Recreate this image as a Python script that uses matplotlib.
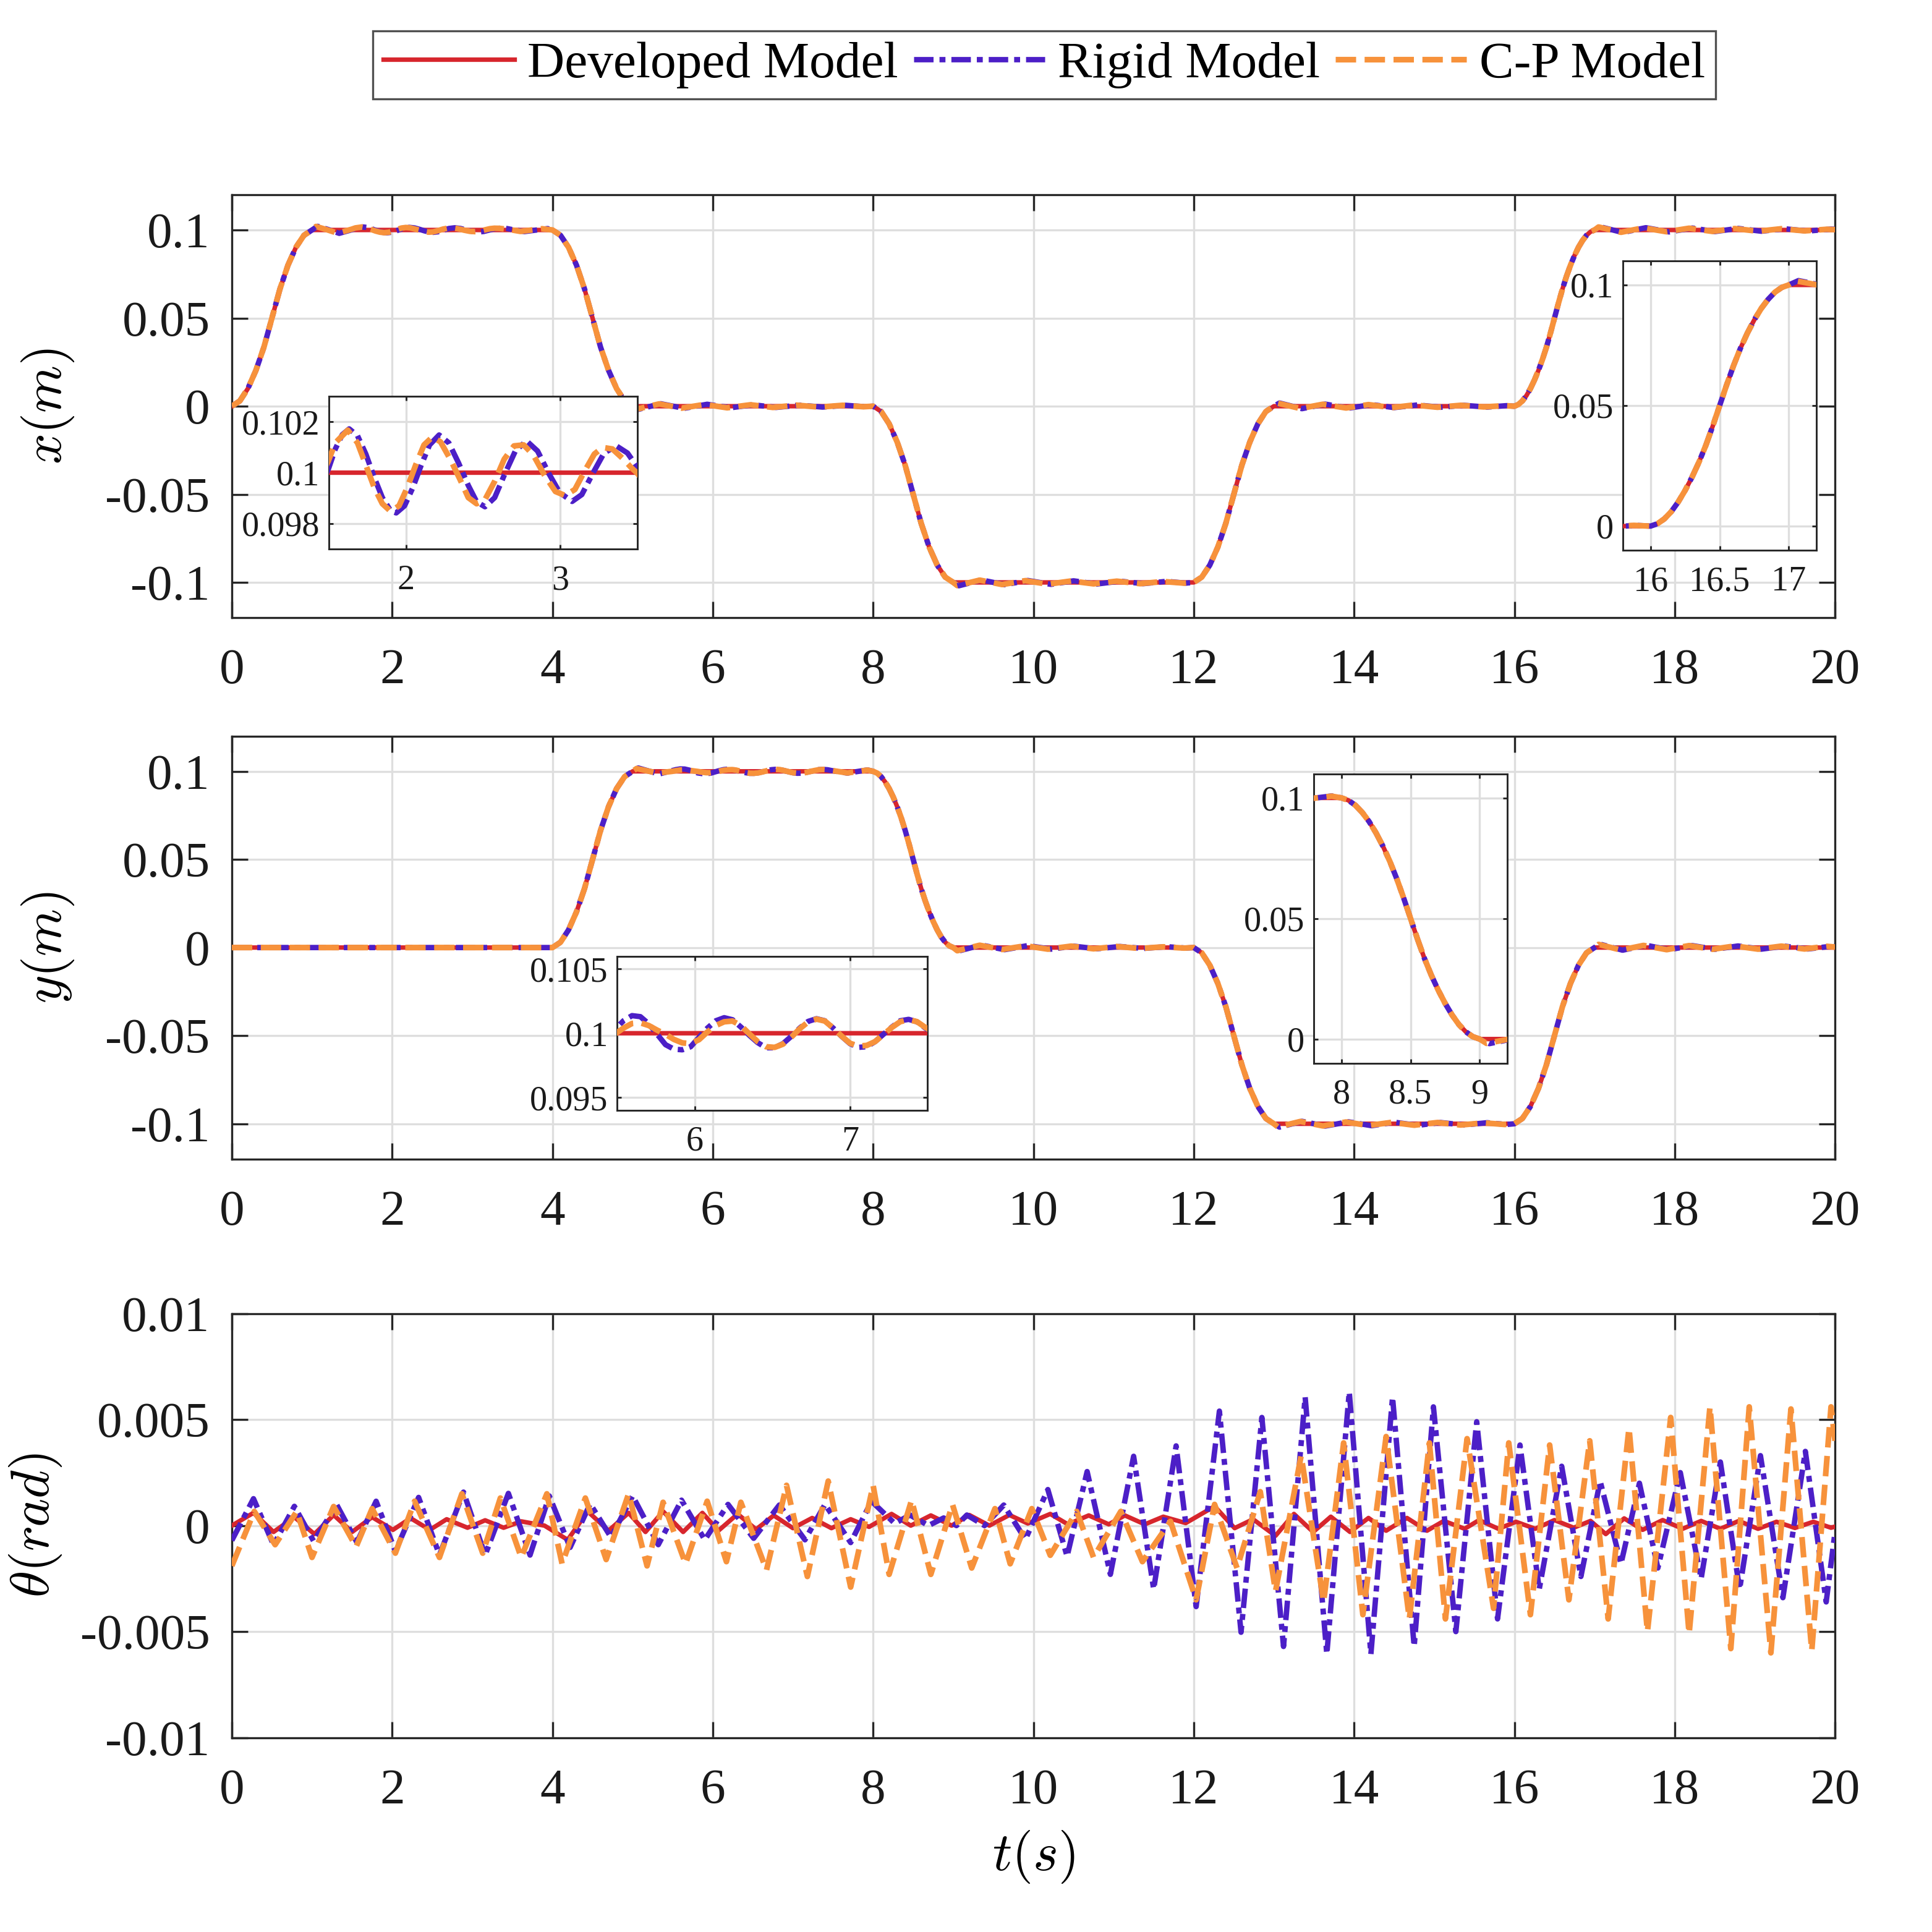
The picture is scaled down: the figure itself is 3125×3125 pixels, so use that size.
import numpy as np
import matplotlib
matplotlib.use('Agg')
import matplotlib.pyplot as plt

plt.rcParams['font.family'] = ['Liberation Serif', 'DejaVu Serif']
plt.rcParams['mathtext.fontset'] = 'cm'

model_names = ['Developed Model', 'Rigid Model', 'C-P Model']
model_colors = ['#d7262d', '#4c1fc7', '#f7923b']

t_ticks = [0, 2, 4, 6, 8, 10, 12, 14, 16, 18, 20]
t_ticklabels = ['0', '2', '4', '6', '8', '10', '12', '14', '16', '18', '20']
pos_ticks = [-0.1, -0.05, 0, 0.05, 0.1]
pos_ticklabels = ['-0.1', '-0.05', '0', '0.05', '0.1']
th_ticks = [-0.01, -0.005, 0, 0.005, 0.01]
th_ticklabels = ['-0.01', '-0.005', '0', '0.005', '0.01']

# ---- x(t): transitions (same for all models) ----
x_ramp_t = [0.0, 0.1, 0.2, 0.3, 0.4, 0.5, 0.6, 0.7, 0.8, 0.9, 1.0,
            4.0, 4.1, 4.2, 4.3, 4.4, 4.5, 4.6, 4.7, 4.8, 4.9, 5.0,
            8.0, 8.1, 8.2, 8.3, 8.4, 8.5, 8.6, 8.7, 8.8, 8.9, 9.0,
            12.0, 12.1, 12.2, 12.3, 12.4, 12.5, 12.6, 12.7, 12.8, 12.9, 13.0,
            16.0, 16.05, 16.1, 16.15, 16.2, 16.25, 16.3, 16.35, 16.4, 16.45, 16.5,
            16.55, 16.6, 16.65, 16.7, 16.75, 16.8, 16.85, 16.9, 16.95, 17.0]
x_ramp_v = [0.0, 0.003, 0.010, 0.0203, 0.0335, 0.05, 0.0665, 0.080, 0.0902, 0.097, 0.1,
            0.1, 0.097, 0.0902, 0.080, 0.0665, 0.05, 0.0335, 0.0203, 0.010, 0.003, 0.0,
            0.0, -0.003, -0.010, -0.0203, -0.0335, -0.05, -0.0665, -0.080, -0.0902, -0.097, -0.1,
            -0.1, -0.097, -0.0902, -0.080, -0.0665, -0.05, -0.0335, -0.0203, -0.010, -0.003, 0.0,
            0.0, 0.001, 0.003, 0.006, 0.010, 0.0148, 0.0203, 0.0265, 0.0335, 0.0415, 0.05,
            0.0585, 0.0665, 0.0737, 0.080, 0.0855, 0.0902, 0.094, 0.097, 0.099, 0.1]

# plateau points per model
x_dev_t = [20.0]
x_dev_v = [0.1]

x_rig_t = [1.07, 1.20, 1.34,
           1.497, 1.542, 1.587, 1.632, 1.686, 1.740, 1.794, 1.847, 1.901, 1.937,
           1.991, 2.045, 2.099, 2.153, 2.215, 2.278, 2.341, 2.404, 2.458, 2.512,
           2.575, 2.637, 2.709, 2.781, 2.853, 2.925, 2.996, 3.077, 3.140, 3.212,
           3.284, 3.364, 3.436, 3.499, 3.65, 3.94,
           5.07, 5.35, 5.64, 5.93, 6.22, 6.50, 6.79, 7.08, 7.37, 7.66, 7.90,
           9.07, 9.35, 9.64, 9.93, 10.22, 10.50, 10.79, 11.08, 11.37, 11.66, 11.90,
           13.07, 13.35, 13.64, 13.93, 14.22, 14.50, 14.79, 15.08, 15.37, 15.66, 15.90,
           17.07, 17.35, 17.64, 17.93, 18.22, 18.50, 18.79, 19.08, 19.37, 19.66, 19.95, 20.0]
x_rig_v = [0.1021, 0.1003, 0.0981,
           0.10014, 0.10093, 0.10149, 0.10172, 0.10145, 0.10073, 0.09982, 0.09902, 0.09850, 0.09842,
           0.09870, 0.09942, 0.10030, 0.10109, 0.10148, 0.10117, 0.10038, 0.09950, 0.09886, 0.09866,
           0.09902, 0.09990, 0.10085, 0.10125, 0.10085, 0.09998, 0.09922, 0.09887, 0.09914, 0.09998,
           0.10077, 0.10105, 0.10077, 0.10022, 0.0991, 0.1008,
           -0.0018, 0.0014, -0.0012, 0.0011, -0.0009, 0.0008, -0.0007, 0.0006, -0.0005, 0.0005, -0.0003,
           -0.1019, -0.0986, -0.1013, -0.0989, -0.1011, -0.0991, -0.1009, -0.0993, -0.1007, -0.0994, -0.1004,
           0.0018, -0.0014, 0.0012, -0.0011, 0.0009, -0.0008, 0.0007, -0.0006, 0.0005, -0.0005, 0.0003,
           0.1018, 0.0986, 0.1013, 0.0989, 0.1011, 0.0991, 0.1009, 0.0993, 0.1007, 0.0994, 0.1005, 0.1004]

x_cp_t = [1.05, 1.19, 1.32,
          1.497, 1.542, 1.623, 1.686, 1.740, 1.794, 1.847, 1.901, 1.955, 2.009,
          2.063, 2.117, 2.171, 2.224, 2.287, 2.350, 2.404, 2.458, 2.512, 2.575,
          2.637, 2.700, 2.763, 2.826, 2.898, 2.969, 3.032, 3.095, 3.158, 3.221,
          3.275, 3.338, 3.410, 3.463, 3.499, 3.60, 3.87,
          5.05, 5.33, 5.61, 5.90, 6.18, 6.47, 6.75, 7.04, 7.33, 7.62, 7.88,
          9.05, 9.33, 9.61, 9.90, 10.18, 10.47, 10.75, 11.04, 11.33, 11.62, 11.88,
          13.05, 13.33, 13.61, 13.90, 14.18, 14.47, 14.75, 15.04, 15.33, 15.62, 15.88,
          17.05, 17.33, 17.61, 17.90, 18.18, 18.47, 18.75, 19.04, 19.33, 19.62, 19.90, 20.0]
x_cp_v = [0.1020, 0.1001, 0.0982,
          0.10046, 0.10117, 0.10167, 0.10117, 0.10030, 0.09942, 0.09878, 0.09848, 0.09870, 0.09942,
          0.10030, 0.10109, 0.10140, 0.10121, 0.10053, 0.09974, 0.09902, 0.09878, 0.09894, 0.09966,
          0.10053, 0.10105, 0.10109, 0.10069, 0.09990, 0.09926, 0.09910, 0.09934, 0.10006, 0.10073,
          0.10099, 0.10093, 0.10053, 0.10018, 0.09998, 0.0992, 0.1007,
          -0.0017, 0.0013, -0.0011, 0.0010, -0.0009, 0.0008, -0.0007, 0.0006, -0.0005, 0.0005, -0.0003,
          -0.1018, -0.0987, -0.1012, -0.0990, -0.1010, -0.0992, -0.1008, -0.0993, -0.1007, -0.0995, -0.1004,
          0.0017, -0.0013, 0.0011, -0.0010, 0.0009, -0.0008, 0.0007, -0.0006, 0.0005, -0.0004, 0.0003,
          0.1017, 0.0987, 0.1012, 0.0990, 0.1010, 0.0992, 0.1008, 0.0993, 0.1007, 0.0995, 0.1004, 0.1002]

# ---- y(t): transitions ----
y_ramp_t = [4.0, 4.1, 4.2, 4.3, 4.4, 4.5, 4.6, 4.7, 4.8, 4.9, 5.0,
            8.0, 8.05, 8.1, 8.15, 8.2, 8.25, 8.3, 8.35, 8.4, 8.45, 8.5,
            8.55, 8.6, 8.65, 8.7, 8.75, 8.8, 8.85, 8.9, 8.95, 9.0,
            12.0, 12.1, 12.2, 12.3, 12.4, 12.5, 12.6, 12.7, 12.8, 12.9, 13.0,
            16.0, 16.1, 16.2, 16.3, 16.4, 16.5, 16.6, 16.7, 16.8, 16.9, 17.0]
y_ramp_v = [0.0, 0.003, 0.010, 0.0203, 0.0335, 0.05, 0.0665, 0.080, 0.0902, 0.097, 0.1,
            0.1, 0.099, 0.097, 0.094, 0.0902, 0.0855, 0.080, 0.0737, 0.0665, 0.0585, 0.05,
            0.0415, 0.0335, 0.0265, 0.0203, 0.0148, 0.010, 0.006, 0.003, 0.001, 0.0,
            0.0, -0.003, -0.010, -0.0203, -0.0335, -0.05, -0.0665, -0.080, -0.0902, -0.097, -0.1,
            -0.1, -0.097, -0.0902, -0.080, -0.0665, -0.05, -0.0335, -0.0203, -0.010, -0.003, 0.0]

y_dev_t = [0.0, 20.0]
y_dev_v = [0.0, 0.0]

y_rig_t = [0.0,
           5.07, 5.33,
           5.493, 5.540, 5.595, 5.649, 5.703, 5.757, 5.811, 5.865, 5.919, 5.973,
           6.027, 6.081, 6.135, 6.189, 6.243, 6.297, 6.351, 6.405, 6.459, 6.514,
           6.568, 6.622, 6.676, 6.730, 6.784, 6.838, 6.892, 6.946, 7.000, 7.054,
           7.108, 7.162, 7.216, 7.270, 7.324, 7.378, 7.432, 7.486, 7.68, 7.93,
           9.07, 9.35, 9.64, 9.93, 10.22, 10.50, 10.79, 11.08, 11.37, 11.66, 11.90,
           13.07, 13.35, 13.64, 13.93, 14.22, 14.50, 14.79, 15.08, 15.37, 15.66, 15.90,
           17.07, 17.35, 17.64, 17.93, 18.22, 18.50, 18.79, 19.08, 19.37, 19.66, 19.95, 20.0]
y_rig_v = [0.0,
           0.1019, 0.0985,
           0.10040, 0.10097, 0.10137, 0.10129, 0.10073, 0.09992, 0.09911, 0.09876, 0.09871, 0.09895,
           0.09968, 0.10040, 0.10097, 0.10121, 0.10105, 0.10048, 0.09984, 0.09927, 0.09887, 0.09887,
           0.09919, 0.09976, 0.10040, 0.10092, 0.10113, 0.10097, 0.10040, 0.09976, 0.09919, 0.09890,
           0.09895, 0.09935, 0.09992, 0.10048, 0.10097, 0.10108, 0.10089, 0.10040, 0.0990, 0.1008,
           -0.0019, 0.0014, -0.0012, 0.0011, -0.0009, 0.0008, -0.0007, 0.0006, -0.0005, 0.0005, -0.0003,
           -0.1019, -0.0986, -0.1013, -0.0989, -0.1011, -0.0991, -0.1009, -0.0993, -0.1007, -0.0994, -0.1004,
           0.0019, -0.0015, 0.0013, -0.0012, 0.0011, -0.0010, 0.0009, -0.0009, 0.0008, -0.0008, 0.0007, 0.0005]

y_cp_t = [0.0,
          5.05, 5.31,
          5.493, 5.540, 5.595, 5.649, 5.703, 5.757, 5.811, 5.865, 5.919, 5.973,
          6.027, 6.081, 6.135, 6.189, 6.243, 6.297, 6.351, 6.405, 6.459, 6.514,
          6.568, 6.622, 6.676, 6.730, 6.784, 6.838, 6.892, 6.946, 7.000, 7.054,
          7.108, 7.162, 7.216, 7.270, 7.324, 7.378, 7.432, 7.486, 7.68, 7.93,
          9.05, 9.33, 9.61, 9.90, 10.18, 10.47, 10.75, 11.04, 11.33, 11.62, 11.88,
          13.05, 13.33, 13.61, 13.90, 14.18, 14.47, 14.75, 15.04, 15.33, 15.62, 15.88,
          17.05, 17.33, 17.61, 17.90, 18.18, 18.47, 18.75, 19.04, 19.33, 19.62, 19.90, 20.0]
y_cp_v = [0.0,
          0.1016, 0.0990,
          0.10000, 0.10040, 0.10076, 0.10081, 0.10060, 0.10024, 0.09992, 0.09952, 0.09925, 0.09919,
          0.09950, 0.10010, 0.10060, 0.10089, 0.10095, 0.10060, 0.09995, 0.09935, 0.09895, 0.09890,
          0.09915, 0.09970, 0.10035, 0.10088, 0.10110, 0.10095, 0.10040, 0.09978, 0.09922, 0.09900,
          0.09905, 0.09935, 0.09990, 0.10045, 0.10090, 0.10105, 0.10090, 0.10045, 0.0991, 0.1007,
          -0.0018, 0.0013, -0.0011, 0.0010, -0.0009, 0.0008, -0.0007, 0.0006, -0.0005, 0.0004, -0.0003,
          -0.1018, -0.0987, -0.1012, -0.0990, -0.1010, -0.0992, -0.1008, -0.0993, -0.1007, -0.0995, -0.1004,
          0.0018, -0.0014, 0.0012, -0.0012, 0.0011, -0.0010, 0.0009, -0.0009, 0.0008, -0.0008, 0.0007, 0.0003]

# ---- theta(t): peaks and troughs ----
th_dev_t = [0.0, 0.27, 0.52, 0.78, 1.03, 1.27, 1.50, 1.75, 2.01, 2.23,
            2.47, 2.68, 2.94, 3.16, 3.39, 3.61, 3.90, 4.19, 4.44, 4.70,
            4.95, 5.16, 5.38, 5.63, 5.87, 6.07, 6.31, 6.54, 6.76, 7.00,
            7.24, 7.48, 7.72, 7.95, 8.23, 8.47, 8.72, 8.98, 9.20, 9.45,
            9.70, 9.93, 10.21, 10.43, 10.69, 10.94, 11.14, 11.39, 11.62, 11.90,
            12.26, 12.51, 12.74, 13.02, 13.25, 13.49, 13.71, 13.95, 14.18, 14.40,
            14.66, 14.91, 15.12, 15.38, 15.56, 15.80, 16.02, 16.26, 16.50, 16.74,
            16.95, 17.14, 17.37, 17.60, 17.85, 18.10, 18.33, 18.57, 18.80, 19.04,
            19.27, 19.50, 19.73, 19.95, 20.0]
th_dev_v = [0.0, 0.0006, -0.0003, 0.0004, -0.0004, 0.0005, -0.0003, 0.0004, -0.0002, 0.00035,
            -0.0002, 0.0003, -0.0001, 0.00025, -0.0001, 0.0002, 0.0, -0.00067, 0.00067, -0.00024,
            0.0006, -0.0003, 0.00067, -0.0003, 0.0006, -0.00024, 0.00055, -0.00018, 0.00048, -0.00012,
            0.00036, -0.00012, 0.0003, -0.00006, 0.00055, 0.0, 0.00048, 0.0, 0.0005, 0.0,
            0.0005, 0.0001, 0.00055, 0.00006, 0.00048, 0.00006, 0.00048, 0.00006, 0.00042, 0.00012,
            0.00091, -0.00012, 0.0003, -0.00048, 0.00055, -0.0003, 0.00042, -0.0003, 0.00036, -0.00024,
            0.00036, -0.00024, 0.00022, -0.00015, 0.00026, -0.00015, 0.00018, -0.00015, 0.00026, -0.0001,
            0.00022, -0.0004, 0.00034, -0.0002, 0.00026, -0.00015, 0.00022, -0.00015, 0.00022, -0.00015,
            0.00018, -0.00011, 0.00018, -0.0001, -0.00005]

th_rig_t = [0.0, 0.27, 0.52, 0.78, 1.02, 1.31, 1.56, 1.80, 2.04, 2.33,
            2.59, 2.89, 3.16, 3.45, 3.72, 3.96, 4.22, 4.47, 4.73, 5.00,
            5.32, 5.61, 5.90, 6.19, 6.51, 6.83, 7.15, 7.40, 7.72, 7.98,
            8.27, 8.46, 8.69, 8.88, 9.04, 9.17, 9.39, 9.63, 9.90, 10.18,
            10.42, 10.67, 10.96, 11.25, 11.50, 11.78, 12.03, 12.32, 12.59, 12.85,
            13.12, 13.39, 13.66, 13.94, 14.21, 14.48, 14.75, 14.99, 15.27, 15.53,
            15.79, 16.07, 16.31, 16.59, 16.83, 17.07, 17.33, 17.56, 17.79, 18.07,
            18.33, 18.57, 18.81, 19.07, 19.35, 19.63, 19.89, 20.0]
th_rig_v = [-0.0007, 0.00127, -0.00091, 0.00091, -0.00073, 0.00097, -0.00079, 0.00115, -0.00121, 0.00133,
            -0.00139, 0.00158, -0.00139, 0.00152, -0.00139, 0.0014, -0.00103, 0.00103, -0.00055, 0.0014,
            -0.0009, 0.0012, -0.00067, 0.001, -0.0006, 0.00097, -0.00067, 0.001, -0.0008, 0.00115,
            0.0001, 0.0005, 0.0, 0.00036, 0.0, 0.0005, 0.0, 0.00097, -0.00065, 0.0017,
            -0.00145, 0.00255, -0.0023, 0.00327, -0.003, 0.00376, -0.00382, 0.0054, -0.00503, 0.0051,
            -0.0057, 0.00606, -0.00606, 0.0063, -0.00606, 0.00606, -0.0057, 0.0056, -0.005, 0.0049,
            -0.0044, 0.0038, -0.003, 0.0028, -0.0024, 0.0021, -0.0018, 0.002, -0.002, 0.0025,
            -0.0025, 0.003, -0.003, 0.0033, -0.0034, 0.0035, -0.0036, -0.0003]

th_cp_t = [0.0, 0.28, 0.54, 0.81, 1.00, 1.27, 1.55, 1.75, 2.04, 2.28,
           2.59, 2.87, 3.13, 3.35, 3.61, 3.93, 4.12, 4.41, 4.67, 4.95,
           5.18, 5.38, 5.66, 5.93, 6.17, 6.35, 6.67, 6.92, 7.18, 7.44,
           7.72, 8.00, 8.20, 8.48, 8.72, 8.99, 9.23, 9.52, 9.71, 9.98,
           10.21, 10.54, 10.75, 11.09, 11.36, 11.71, 12.03, 12.26, 12.54, 12.83,
           13.02, 13.34, 13.62, 13.87, 14.11, 14.40, 14.69, 14.94, 15.14, 15.41,
           15.74, 15.93, 16.20, 16.44, 16.68, 16.94, 17.17, 17.43, 17.66, 17.95,
           18.18, 18.44, 18.70, 18.93, 19.20, 19.45, 19.71, 19.95, 20.0]
th_cp_v = [-0.0019, 0.00067, -0.0009, 0.00067, -0.0015, 0.0009, -0.001, 0.0008, -0.0013, 0.00115,
           -0.0015, 0.0015, -0.0013, 0.0013, -0.0015, 0.0015, -0.0018, 0.0013, -0.0016, 0.0015,
           -0.0019, 0.0011, -0.0018, 0.00115, -0.0017, 0.0011, -0.0021, 0.0019, -0.0024, 0.0021,
           -0.0029, 0.0019, -0.0023, 0.0012, -0.0023, 0.001, -0.002, 0.0008, -0.0018, 0.0008,
           -0.0014, 0.00067, -0.0015, 0.00067, -0.0017, 0.0002, -0.0035, 0.001, -0.002, 0.0016,
           -0.0031, 0.0033, -0.0036, 0.0039, -0.0042, 0.0042, -0.0044, 0.0039, -0.0044, 0.0041,
           -0.0039, 0.0039, -0.0042, 0.0038, -0.0035, 0.004, -0.0044, 0.0046, -0.005, 0.0051,
           -0.0051, 0.0056, -0.0058, 0.0056, -0.006, 0.0055, -0.0059, 0.0056, 0.004]


def merge(t_a, v_a, t_b, v_b):
    t = np.array(t_a + t_b, dtype=float)
    v = np.array(v_a + v_b, dtype=float)
    idx = np.argsort(t, kind='stable')
    return t[idx], v[idx]


x_series = [merge(x_ramp_t, x_ramp_v, x_dev_t, x_dev_v),
            merge(x_ramp_t, x_ramp_v, x_rig_t, x_rig_v),
            merge(x_ramp_t, x_ramp_v, x_cp_t, x_cp_v)]
y_series = [merge(y_ramp_t, y_ramp_v, y_dev_t, y_dev_v),
            merge(y_ramp_t, y_ramp_v, y_rig_t, y_rig_v),
            merge(y_ramp_t, y_ramp_v, y_cp_t, y_cp_v)]
th_series = [(np.array(th_dev_t), np.array(th_dev_v)),
             (np.array(th_rig_t), np.array(th_rig_v)),
             (np.array(th_cp_t), np.array(th_cp_v))]

line_styles = [dict(lw=1.75, ls='-', zorder=3),
               dict(lw=2.1, dashes=(3.6, 1.1, 1.1, 1.1), zorder=4),
               dict(lw=2.2, dashes=(3.6, 1.5), zorder=5)]

EDGE = '#262626'
GRID = '#dedede'


def draw_models(ax, series):
    lines = []
    for (t, v), name, col, st in zip(series, model_names, model_colors, line_styles):
        ln, = ax.plot(t, v, color=col, label=name, **st)
        lines.append(ln)
    return lines


def style_main(ax, yticks, ylabels, ylim):
    ax.set_xlim(0, 20)
    ax.set_ylim(*ylim)
    ax.set_xticks(t_ticks)
    ax.set_xticklabels(t_ticklabels)
    ax.set_yticks(yticks)
    ax.set_yticklabels(ylabels)
    ax.grid(True, color=GRID, lw=0.8)
    ax.set_axisbelow(True)
    ax.tick_params(direction='in', length=6.3, width=0.8, top=True, right=True,
                   labelsize=19.5, color=EDGE, labelcolor='#1a1a1a')
    ax.tick_params(axis='x', pad=12)
    ax.tick_params(axis='y', pad=8.5)
    for s in ax.spines.values():
        s.set_linewidth(0.8)
        s.set_color(EDGE)


def make_inset(rect, series, xlim, ylim, xticks, xlabels, yticks, ylabels):
    ins = fig.add_axes(rect)
    ins.set_facecolor('white')
    draw_models(ins, series)
    ins.set_xlim(*xlim)
    ins.set_ylim(*ylim)
    ins.set_xticks(xticks)
    ins.set_xticklabels(xlabels)
    ins.set_yticks(yticks)
    ins.set_yticklabels(ylabels)
    ins.grid(True, color=GRID, lw=0.8)
    ins.set_axisbelow(True)
    ins.tick_params(direction='in', length=1.6, width=0.7, top=True, right=True,
                    labelsize=13.5, color=EDGE, labelcolor='#1a1a1a')
    ins.tick_params(axis='x', pad=6)
    ins.tick_params(axis='y', pad=3.5)
    for s in ins.spines.values():
        s.set_linewidth(0.7)
        s.set_color(EDGE)
    return ins


fig = plt.figure(figsize=(3125 / 300, 3125 / 300), dpi=300)

ax1 = fig.add_axes([0.120, 0.6803, 0.8298, 0.2189])
ax2 = fig.add_axes([0.120, 0.4001, 0.8298, 0.2189])
ax3 = fig.add_axes([0.120, 0.1006, 0.8298, 0.2195])

handles = draw_models(ax1, x_series)
draw_models(ax2, y_series)
draw_models(ax3, th_series)

style_main(ax1, pos_ticks, pos_ticklabels, (-0.12, 0.12))
style_main(ax2, pos_ticks, pos_ticklabels, (-0.12, 0.12))
style_main(ax3, th_ticks, th_ticklabels, (-0.01, 0.01))

ax1.set_ylabel(r'$x(m)$', fontsize=21)
ax2.set_ylabel(r'$y(m)$', fontsize=21)
ax3.set_ylabel(r'$\theta(rad)$', fontsize=21)
ax3.set_xlabel(r'$t(s)$', fontsize=21)
ax1.yaxis.set_label_coords(-0.097, 0.5)
ax2.yaxis.set_label_coords(-0.097, 0.5)
ax3.yaxis.set_label_coords(-0.105, 0.5)
ax3.xaxis.set_label_coords(0.5, -0.215)

# zoomed views
make_inset([0.1702, 0.7158, 0.1597, 0.0791], x_series, (1.5, 3.5), (0.097, 0.103),
           [2, 3], ['2', '3'], [0.098, 0.1, 0.102], ['0.098', '0.1', '0.102'])
make_inset([0.840, 0.7152, 0.1002, 0.1498], x_series, (15.8, 17.2), (-0.01, 0.11),
           [16, 16.5, 17], ['16', '16.5', '17'], [0, 0.05, 0.1], ['0', '0.05', '0.1'])
make_inset([0.3195, 0.4253, 0.1606, 0.0798], y_series, (5.5, 7.5), (0.094, 0.106),
           [6, 7], ['6', '7'], [0.095, 0.1, 0.105], ['0.095', '0.1', '0.105'])
make_inset([0.680, 0.4497, 0.1002, 0.1498], y_series, (7.8, 9.2), (-0.01, 0.11),
           [8, 8.5, 9], ['8', '8.5', '9'], [0, 0.05, 0.1], ['0', '0.05', '0.1'])

leg = fig.legend(handles, model_names, loc='center', bbox_to_anchor=(0.5405, 0.9665),
                 ncol=3, fontsize=20, frameon=True, fancybox=False, edgecolor=EDGE,
                 handlelength=2.55, handletextpad=0.25, columnspacing=0.3,
                 borderpad=0.2, borderaxespad=0)
leg.get_frame().set_linewidth(0.8)

fig.savefig('out.png', dpi=300, facecolor='white')
